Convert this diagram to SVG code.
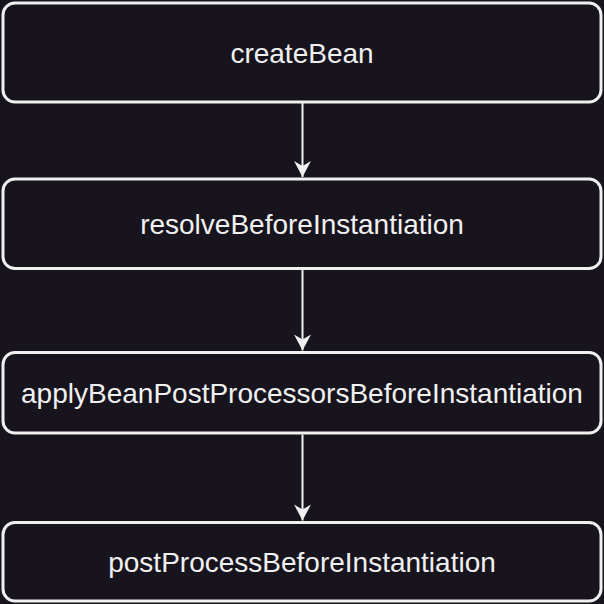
<svg xmlns="http://www.w3.org/2000/svg" width="604" height="604" viewBox="0 0 604 604">
  <defs>
    <marker id="arrow" markerUnits="userSpaceOnUse" viewBox="-17 -9 18 18" markerWidth="18" markerHeight="18" refX="0" refY="0" orient="auto">
      <path d="M0,0 L-16,-8.5 L-11,0 L-16,8.5 Z" fill="#f0f0f0"/>
    </marker>
  </defs>
  <style>
    .box { fill: #18141d; stroke: #f0f0f0; stroke-width: 3; }
    .label { fill: #f0f0f0; font-family: "Liberation Sans", Arial, Helvetica, sans-serif; font-size: 28px; text-anchor: middle; }
    .conn { stroke: #f0f0f0; stroke-width: 2; fill: none; }
  </style>
  <rect width="604" height="604" fill="#18141d"/>
  <g id="connectors">
    <line class="conn" x1="302.5" y1="103" x2="302.5" y2="177" marker-end="url(#arrow)"/>
    <line class="conn" x1="302.5" y1="270" x2="302.5" y2="350.5" marker-end="url(#arrow)"/>
    <line class="conn" x1="302.5" y1="434.5" x2="302.5" y2="520.5" marker-end="url(#arrow)"/>
  </g>
  <g id="createBean">
    <rect class="box" x="3" y="3" width="598" height="99" rx="12" ry="12"/>
    <text class="label" x="302" y="62.5">createBean</text>
  </g>
  <g id="resolveBeforeInstantiation">
    <rect class="box" x="3" y="179" width="598" height="89.5" rx="12" ry="12"/>
    <text class="label" x="302" y="233.75">resolveBeforeInstantiation</text>
  </g>
  <g id="applyBeanPostProcessorsBeforeInstantiation">
    <rect class="box" x="3" y="352.5" width="598" height="80.5" rx="12" ry="12"/>
    <text class="label" x="302" y="402.75">applyBeanPostProcessorsBeforeInstantiation</text>
  </g>
  <g id="postProcessBeforeInstantiation">
    <rect class="box" x="3" y="522.5" width="598" height="78.5" rx="12" ry="12"/>
    <text class="label" x="302" y="571.75">postProcessBeforeInstantiation</text>
  </g>
</svg>
